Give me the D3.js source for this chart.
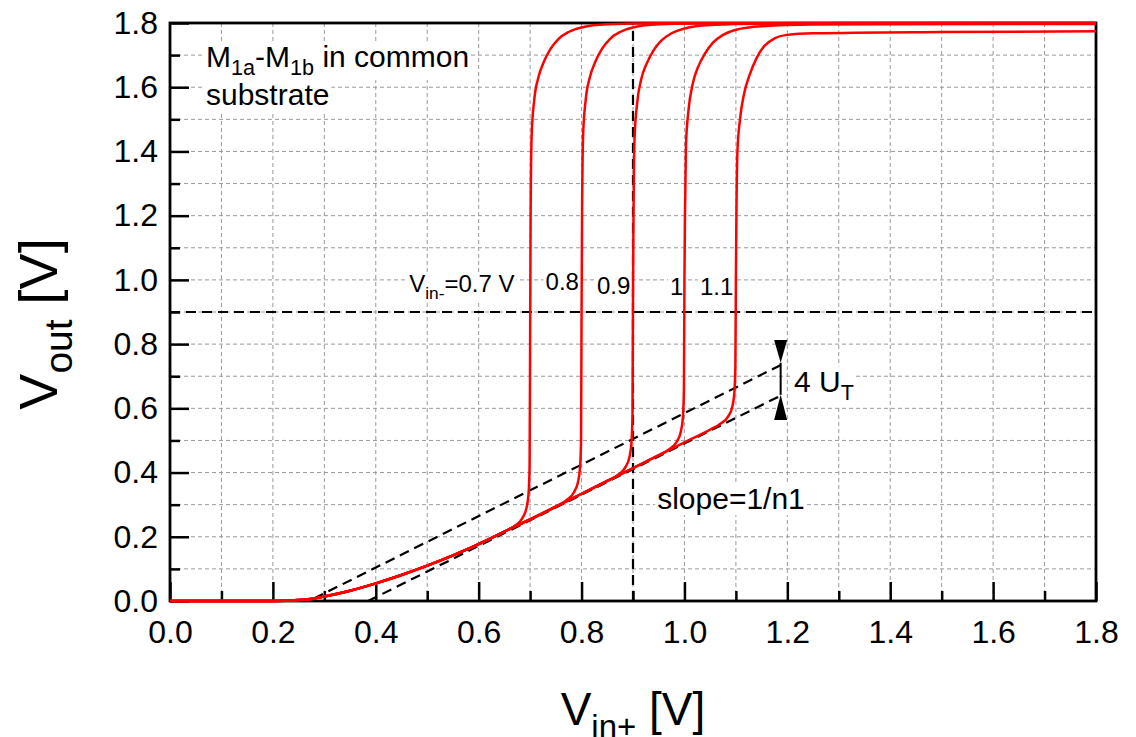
<!DOCTYPE html>
<html>
<head>
<meta charset="utf-8">
<script src="https://cdn.jsdelivr.net/npm/d3@7/dist/d3.min.js"></script>
<style>
  body { margin: 0; background: #fff; }
  svg { font-family: Arial, "Liberation Sans", sans-serif; }
</style>
</head>
<body>
<svg width="1136" height="737"></svg>
<script>
// tick values (V)
var majorTicks = [0, 0.2, 0.4, 0.6, 0.8, 1.0, 1.2, 1.4, 1.6, 1.8];
var minorTicks = [0.1, 0.3, 0.5, 0.7, 0.9, 1.1, 1.3, 1.5, 1.7];
var gridValues = [0.1, 0.2, 0.3, 0.4, 0.5, 0.6, 0.7, 0.8, 0.9, 1.0, 1.1, 1.2, 1.3, 1.4, 1.5, 1.6, 1.7];

// Vin- of each curve
var vinMinus = [0.7, 0.8, 0.9, 1.0, 1.1];

// [Vin+, Vout]
var curve07 = [[0,0],[0.20,0],[0.25,0.003],[0.28,0.008],[0.30,0.014],[0.35,0.032],[0.40,0.055],[0.45,0.081],
  [0.50,0.110],[0.55,0.142],[0.60,0.177],[0.65,0.216],[0.67,0.234],[0.685,0.258],[0.693,0.29],[0.697,0.335],
  [0.699,0.42],[0.700,0.8],[0.701,1.2],[0.703,1.45],[0.708,1.56],[0.716,1.63],[0.727,1.68],[0.740,1.72],
  [0.755,1.75],[0.775,1.772],[0.80,1.786],[0.85,1.796],[0.95,1.799],[1.8,1.8]];
var curve08 = [[0,0],[0.20,0],[0.25,0.003],[0.28,0.008],[0.30,0.014],[0.35,0.032],[0.40,0.055],[0.45,0.081],
  [0.50,0.110],[0.55,0.142],[0.60,0.177],[0.65,0.216],[0.70,0.254],[0.75,0.294],[0.77,0.313],[0.785,0.338],
  [0.793,0.37],[0.797,0.415],[0.799,0.50],[0.800,0.9],[0.801,1.2],[0.803,1.45],[0.808,1.56],[0.816,1.63],
  [0.827,1.68],[0.840,1.72],[0.855,1.75],[0.875,1.772],[0.90,1.786],[0.95,1.796],[1.05,1.799],[1.8,1.8]];
var curve09 = [[0,0],[0.20,0],[0.25,0.003],[0.28,0.008],[0.30,0.014],[0.35,0.032],[0.40,0.055],[0.45,0.081],
  [0.50,0.110],[0.55,0.142],[0.60,0.177],[0.65,0.216],[0.70,0.254],[0.75,0.294],[0.80,0.334],[0.85,0.374],
  [0.87,0.392],[0.885,0.416],[0.893,0.448],[0.897,0.492],[0.899,0.58],[0.900,0.95],[0.901,1.2],[0.903,1.44],
  [0.908,1.55],[0.916,1.625],[0.927,1.675],[0.940,1.715],[0.955,1.745],[0.975,1.768],[1.00,1.783],[1.05,1.794],
  [1.15,1.798],[1.8,1.799]];
var curve10 = [[0,0],[0.20,0],[0.25,0.003],[0.28,0.008],[0.30,0.014],[0.35,0.032],[0.40,0.055],[0.45,0.081],
  [0.50,0.110],[0.55,0.142],[0.60,0.177],[0.65,0.216],[0.70,0.254],[0.75,0.294],[0.80,0.334],[0.85,0.374],
  [0.90,0.414],[0.95,0.454],[0.97,0.472],[0.985,0.496],[0.993,0.528],[0.997,0.572],[0.999,0.66],[1.000,1.0],
  [1.001,1.2],[1.003,1.42],[1.008,1.53],[1.016,1.61],[1.027,1.665],[1.040,1.705],[1.055,1.738],[1.075,1.763],
  [1.10,1.779],[1.15,1.79],[1.25,1.795],[1.8,1.797]];
var curve11 = [[0,0],[0.20,0],[0.25,0.003],[0.28,0.008],[0.30,0.014],[0.35,0.032],[0.40,0.055],[0.45,0.081],
  [0.50,0.110],[0.55,0.142],[0.60,0.177],[0.65,0.216],[0.70,0.254],[0.75,0.294],[0.80,0.334],[0.85,0.374],
  [0.90,0.414],[0.95,0.454],[1.00,0.494],[1.05,0.534],[1.07,0.552],[1.085,0.575],[1.093,0.605],[1.097,0.648],
  [1.099,0.73],[1.100,1.0],[1.101,1.2],[1.103,1.40],[1.108,1.50],[1.116,1.58],[1.127,1.64],[1.140,1.69],
  [1.155,1.728],[1.175,1.752],[1.20,1.763],[1.25,1.768],[1.5,1.772],[1.8,1.774]];
var curves = [curve07, curve08, curve09, curve10, curve11];

// dashed guide lines [Vin+, Vout]
var slopeUpper = [[0.28, 0.008], [1.196, 0.742]];
var slopeLower = [[0.385, 0.0], [1.19, 0.642]];
var vLine = [[0.9, 0], [0.9, 1.8]];
var hLine = [[0, 0.9], [1.8, 0.9]];

const iWidth = 1136, iHeight = 737;
const margin = {top: 23, right: 40, bottom: 136, left: 170};
const innerWidth = iWidth - margin.left - margin.right;
const innerHeight = iHeight - margin.top - margin.bottom;

var svg = d3.select('svg');
var g = svg.append('g').attr('transform', `translate(${margin.left},${margin.top})`);

const xScale = d3.scaleLinear().domain([0, 1.8]).range([0, innerWidth]);
const yScale = d3.scaleLinear().domain([0, 1.8]).range([innerHeight, 0]);

// grid
g.append('g').selectAll('line').data(gridValues).enter().append('line')
  .attr('x1', d => xScale(d)).attr('x2', d => xScale(d))
  .attr('y1', 0).attr('y2', innerHeight)
  .attr('stroke', '#999').attr('stroke-width', 1).attr('stroke-dasharray', '4,3');
g.append('g').selectAll('line').data(gridValues).enter().append('line')
  .attr('y1', d => yScale(d)).attr('y2', d => yScale(d))
  .attr('x1', 0).attr('x2', innerWidth)
  .attr('stroke', '#999').attr('stroke-width', 1).attr('stroke-dasharray', '4,3');

// text labels with white backgrounds
var labelLayer = g.append('g');
function label(x, y, size, parts) {
  var t = labelLayer.append('text')
    .attr('x', xScale(x)).attr('y', yScale(y))
    .attr('font-size', size).attr('fill', '#000');
  var shifted = false;
  parts.forEach(p => {
    if (p.sub) {
      t.append('tspan').attr('font-size', size * 0.72).attr('dy', size * 0.28).text(p.sub);
      shifted = true;
    } else {
      t.append('tspan').attr('dy', shifted ? -size * 0.28 : null).text(p.t);
      shifted = false;
    }
  });
  var b = t.node().getBBox();
  labelLayer.insert('rect', 'text').attr('x', b.x - 2).attr('y', b.y + 2)
    .attr('width', b.width + 4).attr('height', b.height - 2).attr('fill', '#fff');
  return t;
}

label(0.07, 1.664, 30, [{t:'M'},{sub:'1a'},{t:'-M'},{sub:'1b'},{t:' in common'}]);
label(0.07, 1.545, 30, [{t:'substrate'}]);
label(0.465, 0.962, 24, [{t:'V'},{sub:'in-'},{t:'=0.7 V'}]);
label(0.730, 0.969, 24, [{t:'0.8'}]);
label(0.830, 0.955, 24, [{t:'0.9'}]);
label(0.972, 0.953, 24, [{t:'1'}]);
label(1.030, 0.953, 24, [{t:'1.1'}]);
label(0.947, 0.286, 30, [{t:'slope=1/n1'}]);
label(1.213, 0.652, 30, [{t:'4 U'},{sub:'T'}]);

// axes, ticks pointing inward
var xMajor = g.append('g').attr('transform', `translate(0,${innerHeight})`)
  .call(d3.axisBottom(xScale).tickValues(majorTicks).tickFormat(d3.format('.1f'))
    .tickSizeInner(-19).tickSizeOuter(0).tickPadding(19));
var xMinor = g.append('g').attr('transform', `translate(0,${innerHeight})`)
  .call(d3.axisBottom(xScale).tickValues(minorTicks).tickFormat('')
    .tickSizeInner(-10).tickSizeOuter(0));
var yMajor = g.append('g')
  .call(d3.axisLeft(yScale).tickValues(majorTicks).tickFormat(d3.format('.1f'))
    .tickSizeInner(-19).tickSizeOuter(0).tickPadding(12));
var yMinor = g.append('g')
  .call(d3.axisLeft(yScale).tickValues(minorTicks).tickFormat('')
    .tickSizeInner(-10).tickSizeOuter(0));
[xMajor, xMinor, yMajor, yMinor].forEach(a => {
  a.select('.domain').remove();
  a.selectAll('line').attr('stroke', '#000').attr('stroke-width', 2.5);
  a.selectAll('text').attr('font-size', 32).attr('fill', '#000')
    .attr('font-family', 'Arial, "Liberation Sans", sans-serif');
});

// frame
g.append('rect').attr('x', 0).attr('y', 0).attr('width', innerWidth).attr('height', innerHeight)
  .attr('fill', 'none').attr('stroke', '#000').attr('stroke-width', 2.8);

// dashed guides
var line = d3.line().x(d => xScale(d[0])).y(d => yScale(d[1]));
[slopeUpper, slopeLower, vLine, hLine].forEach(l => {
  g.append('path').attr('d', line(l)).attr('fill', 'none')
    .attr('stroke', '#000').attr('stroke-width', 2.2).attr('stroke-dasharray', '10,6');
});

// curves
var curveLine = d3.line().x(d => xScale(d[0])).y(d => yScale(d[1])).curve(d3.curveMonotoneX);
g.append('g').selectAll('path').data(curves).enter().append('path')
  .attr('d', curveLine).attr('fill', 'none')
  .attr('stroke', '#ff0000').attr('stroke-width', 2.5);

// 4 UT marker
var utX = 1.187, utTop = 0.742, utBottom = 0.642;
g.append('line').attr('x1', xScale(utX)).attr('x2', xScale(utX))
  .attr('y1', yScale(utTop)).attr('y2', yScale(utBottom))
  .attr('stroke', '#000').attr('stroke-width', 2);
var ax = xScale(utX);
g.append('path').attr('fill', '#000')
  .attr('d', `M${ax - 6.5},${yScale(0.813)}L${ax + 6.5},${yScale(0.813)}L${ax},${yScale(utTop)}Z`);
g.append('path').attr('fill', '#000')
  .attr('d', `M${ax - 6.5},${yScale(0.564)}L${ax + 6.5},${yScale(0.564)}L${ax},${yScale(utBottom)}Z`);

// axis titles
var xt = svg.append('text').attr('x', margin.left + innerWidth / 2).attr('y', 725)
  .attr('text-anchor', 'middle').attr('font-size', 46);
xt.append('tspan').text('V');
xt.append('tspan').attr('font-size', 33).attr('dy', 13).text('in+');
xt.append('tspan').attr('dy', -13).text(' [V]');

var yt = svg.append('text')
  .attr('transform', `translate(57,324) rotate(-90)`)
  .attr('text-anchor', 'middle').attr('font-size', 54);
yt.append('tspan').text('V');
yt.append('tspan').attr('font-size', 39).attr('dy', 15).text('out');
yt.append('tspan').attr('dy', -15).text(' [V]');
</script>
</body>
</html>
